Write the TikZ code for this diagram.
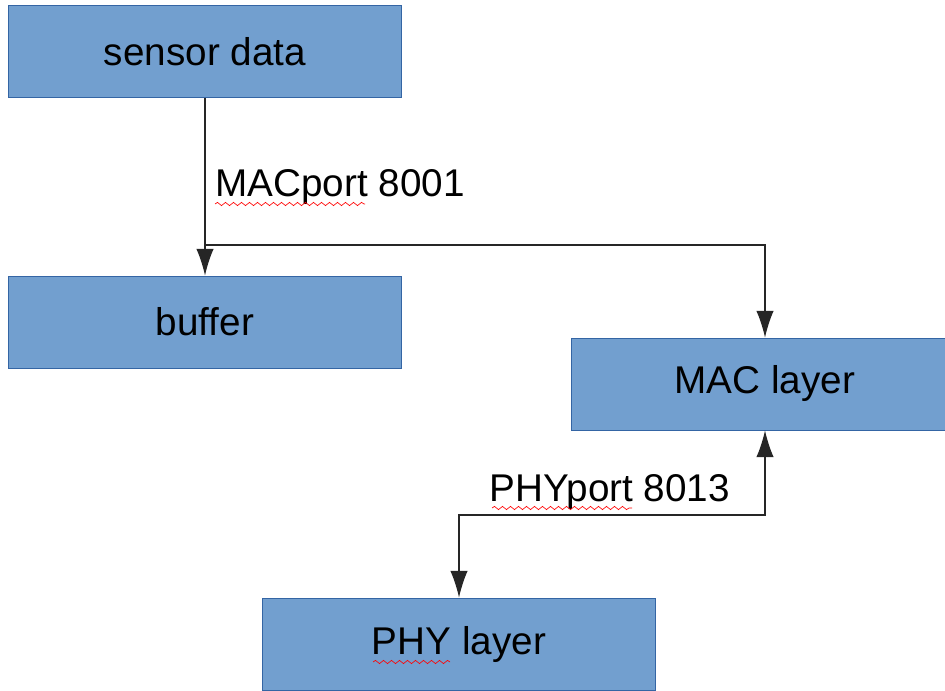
\documentclass[tikz,border=0pt]{standalone}
\usepackage{fontspec}
\setmainfont{Liberation Sans}
\usetikzlibrary{arrows.meta,decorations.pathmorphing}

\definecolor{boxfill}{HTML}{729FCF}
\definecolor{boxline}{HTML}{3465A4}

\tikzset{
  block/.style={draw=boxline,fill=boxfill,line width=0.6pt,minimum width=295pt,minimum height=69pt,inner sep=0pt,font=\fontsize{29}{34}\selectfont},
  link/.style={draw=black!85,line width=0.9pt,-{Latex[length=20pt,width=13pt]}},
  portlabel/.style={font=\fontsize{29}{34}\selectfont,inner sep=0pt},
  typo/.style={draw=red,line width=0.5pt,decorate,decoration={snake,amplitude=1.2pt,segment length=6pt}}
}

\begin{document}
\begin{tikzpicture}[x=0.75pt,y=-0.75pt]

\useasboundingbox (0,0) rectangle (945,691);

% Bloecke
\node[block] (sensor) at (205,51.5) {sensor data};
\node[block] (buffer) at (205,322) {buffer};
\node[block,minimum width=291pt] (mac) at (765,384) {MAC layer};
\node[block] (phy) at (459,644) {PHY layer};

% Verzweigungen
\coordinate (split) at (205,245);
\coordinate (bend) at (765,515);

% Verbindungen
\draw[link] (sensor.south) -- (buffer.north);
\draw[link] (split) -| (mac.north);
\draw[link,{Latex[length=20pt,width=13pt]}-{Latex[length=20pt,width=13pt]}] (mac.south) -- (bend) -| (phy.north);

% Ports
\node[portlabel,anchor=west] (macport) at (215,187) {MACport 8001};
\node[portlabel] (phyport) at (610,492) {PHYport 8013};

% Rechtschreibmarkierungen
\draw[typo] (215,204) -- (365,204);
\draw[typo] (492,508) -- (632,508);
\draw[typo] (373,662) -- (450,662);

\end{tikzpicture}
\end{document}
